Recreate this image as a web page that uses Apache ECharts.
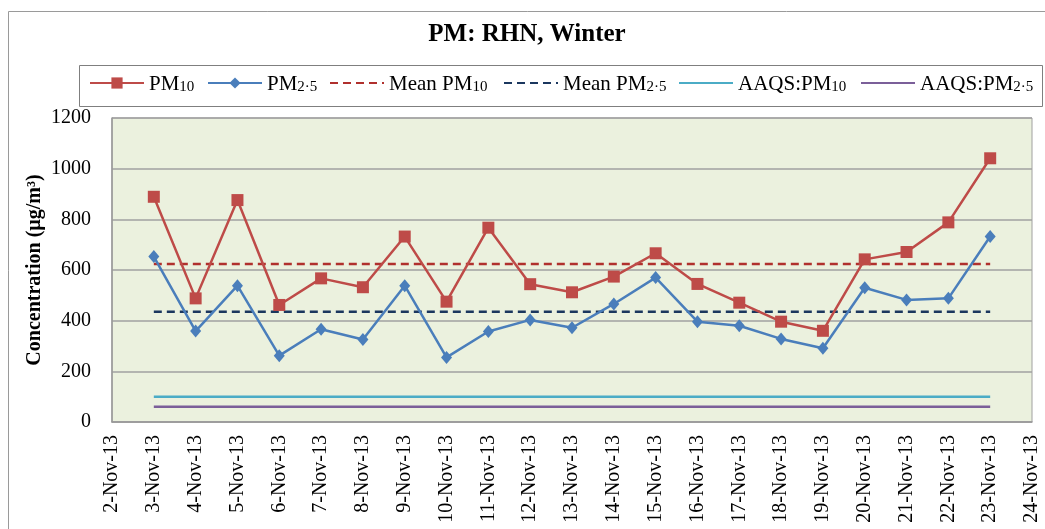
<!DOCTYPE html>
<html>
<head>
<meta charset="utf-8">
<script src="https://cdn.jsdelivr.net/npm/echarts@6/dist/echarts.min.js"></script>
<style>
html, body { margin: 0; padding: 0; background: #fff; }
#main { width: 1045px; height: 529px; }
</style>
</head>
<body>
<div id="main"></div>
<script>
var days = ['2-Nov-13', '3-Nov-13', '4-Nov-13', '5-Nov-13', '6-Nov-13', '7-Nov-13', '8-Nov-13', '9-Nov-13',
	'10-Nov-13', '11-Nov-13', '12-Nov-13', '13-Nov-13', '14-Nov-13', '15-Nov-13', '16-Nov-13', '17-Nov-13',
	'18-Nov-13', '19-Nov-13', '20-Nov-13', '21-Nov-13', '22-Nov-13', '23-Nov-13', '24-Nov-13'];
var pm10 = [null, 889, 488, 876, 462, 567, 532, 732, 475, 767, 544, 512, 574, 666, 545, 471, 396, 360, 642, 671, 788, 1041, null];
var pm25 = [null, 653, 359, 538, 262, 366, 326, 538, 255, 357, 403, 372, 466, 570, 396, 380, 328, 291, 530, 482, 488, 732, null];
var meanPm10 = 624;
var meanPm25 = 435;
var aaqsPm10 = 100;
var aaqsPm25 = 60;
var yTicks = [0, 200, 400, 600, 800, 1000, 1200];

var serif = 'Liberation Serif';
var firstDay = days[1], lastDay = days[days.length - 2];

function flat(v) {
	return [[firstDay, v], [lastDay, v]];
}

var legendText = {
	'PM10': '{t|PM}{s|10}',
	'PM2.5': '{t|PM}{s|2·5}',
	'Mean PM10': '{t|Mean PM}{s|10}',
	'Mean PM2.5': '{t|Mean PM}{s|2·5}',
	'AAQS:PM10': '{t|AAQS:PM}{s|10}',
	'AAQS:PM2.5': '{t|AAQS:PM}{s|2·5}'
};
var legendX = [89, 207, 329, 503, 678, 860];
var legendNames = ['PM10', 'PM2.5', 'Mean PM10', 'Mean PM2.5', 'AAQS:PM10', 'AAQS:PM2.5'];

var legends = [];
for (var i = 0; i < legendNames.length; i++) {
	var lg = {
		left: legendX[i],
		top: 74,
		padding: 0,
		itemWidth: 54,
		itemHeight: 14,
		selectedMode: false,
		data: [legendNames[i]],
		formatter: function (name) { return legendText[name]; },
		textStyle: {
			rich: {
				t: { fontFamily: serif, fontSize: 21, color: '#000', lineHeight: 24, verticalAlign: 'bottom' },
				s: { fontFamily: serif, fontSize: 15, color: '#000', lineHeight: 12, verticalAlign: 'bottom' }
			}
		}
	};
	// plain lines: no marker in the key
	if (i > 1) {
		lg.itemStyle = { opacity: 0 };
	}
	legends.push(lg);
}

var chart = echarts.init(document.getElementById('main'));
chart.setOption({
	animation: false,
	backgroundColor: '#fff',
	title: {
		text: 'PM: RHN, Winter',
		left: 527,
		top: 22,
		padding: 0,
		textAlign: 'center',
		textStyle: { fontFamily: serif, fontSize: 25, fontWeight: 'bold', color: '#000' }
	},
	legend: legends,
	graphic: [
		{ type: 'rect', shape: { x: 8.5, y: 11.5, width: 1100, height: 600 }, style: { fill: 'none', stroke: '#9a9a9a', lineWidth: 1 }, silent: true },
		{ type: 'rect', shape: { x: 79.5, y: 65.5, width: 963, height: 41 }, style: { fill: 'none', stroke: '#7f7f7f', lineWidth: 1 }, silent: true }
	],
	grid: {
		left: 112, right: 13, top: 118, bottom: 107,
		show: true,
		backgroundColor: '#EBF1DE',
		borderColor: '#a0a0a0',
		borderWidth: 1
	},
	xAxis: {
		type: 'category',
		data: days,
		boundaryGap: false,
		axisTick: { show: false },
		axisLine: { show: true, lineStyle: { color: '#999', width: 1.5 } },
		axisLabel: { interval: 0, rotate: 90, margin: 13, fontFamily: serif, fontSize: 20, color: '#000' },
		splitLine: { show: false }
	},
	yAxis: {
		type: 'value',
		min: yTicks[0],
		max: yTicks[yTicks.length - 1],
		interval: 200,
		name: 'Concentration (µg/m³)',
		nameLocation: 'middle',
		nameGap: 67,
		nameMoveOverlap: false,
		nameTextStyle: { fontFamily: serif, fontSize: 20, fontWeight: 'bold', color: '#000' },
		axisLine: { show: true, lineStyle: { color: '#999', width: 1.5 } },
		axisTick: { show: false },
		axisLabel: {
			margin: 21, fontFamily: serif, fontSize: 20, color: '#000',
			formatter: function (v) { return String(v); }
		},
		splitLine: { show: true, lineStyle: { color: '#a0a0a0', width: 1.5 } }
	},
	series: [
		{
			name: 'Mean PM10', type: 'line', data: flat(meanPm10), showSymbol: false, symbol: 'none', z: 2,
			lineStyle: { color: '#B0302D', width: 2.5, type: [8, 5] }, itemStyle: { color: '#B0302D' }
		},
		{
			name: 'Mean PM2.5', type: 'line', data: flat(meanPm25), showSymbol: false, symbol: 'none', z: 2,
			lineStyle: { color: '#1B375E', width: 2.5, type: [8, 5] }, itemStyle: { color: '#1B375E' }
		},
		{
			name: 'AAQS:PM10', type: 'line', data: flat(aaqsPm10), showSymbol: false, symbol: 'none', z: 2,
			lineStyle: { color: '#4BACC6', width: 2.5 }, itemStyle: { color: '#4BACC6' }
		},
		{
			name: 'AAQS:PM2.5', type: 'line', data: flat(aaqsPm25), showSymbol: false, symbol: 'none', z: 2,
			lineStyle: { color: '#7B5F99', width: 2.5 }, itemStyle: { color: '#7B5F99' }
		},
		{
			name: 'PM10', type: 'line', data: pm10, symbol: 'rect', symbolSize: 12, z: 3,
			lineStyle: { color: '#BE4B48', width: 2.5 }, itemStyle: { color: '#BE4B48' }
		},
		{
			name: 'PM2.5', type: 'line', data: pm25, symbol: 'diamond', symbolSize: [11, 13], z: 3,
			lineStyle: { color: '#4A7EBB', width: 2.5 }, itemStyle: { color: '#4A7EBB' }
		}
	]
});
</script>
</body>
</html>
